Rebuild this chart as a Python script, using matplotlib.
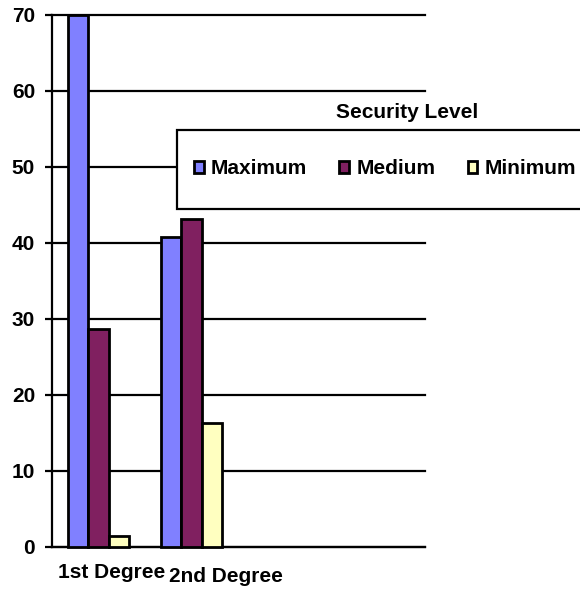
import matplotlib
matplotlib.use('Agg')
import matplotlib.pyplot as plt
import matplotlib.patches as mpatches
import numpy as np

categories = ['1st Degree', '2nd Degree']
series = ['Maximum', 'Medium', 'Minimum']
maximum = [70.0, 40.7]
medium = [28.7, 43.1]
minimum = [1.4, 16.3]
colors = ['#8080FF', '#802060', '#FFFFC0']
yticks = [0, 10, 20, 30, 40, 50, 60, 70]

plt.rcParams['font.family'] = ['Liberation Sans', 'DejaVu Sans']
plt.rcParams['font.weight'] = 'bold'
fs = 15

fig = plt.figure(figsize=(5.8, 5.9), dpi=100)
ax = fig.add_axes([0.0891, 0.0734, 0.6437, 0.9017])

x = np.arange(len(categories))
w = 0.22
for i, (vals, name) in enumerate(zip([maximum, medium, minimum], series)):
    bars = ax.bar(x + (i - 1) * w, vals, w, color=colors[i], edgecolor='black',
                  linewidth=2, label=name, zorder=3)
    for b in bars:
        b.set_clip_on(False)

ax.set_xlim(-0.5, 3.5)
ax.set_ylim(0, 70)
ax.set_yticks(yticks)
ax.set_yticklabels([str(t) for t in yticks], fontsize=fs, fontweight='bold')
ax.tick_params(axis='y', direction='out', length=5, width=1.6, pad=7)
ax.set_xticks([])

ax.yaxis.grid(True, color='black', linewidth=1.6, zorder=0)
ax.set_axisbelow(True)
for line in ax.get_ygridlines():
    line.set_clip_on(False)

for s in ['top', 'right']:
    ax.spines[s].set_visible(False)
for s in ['left', 'bottom']:
    ax.spines[s].set_linewidth(1.6)

# category labels (offset like the original)
trans = matplotlib.transforms.blended_transform_factory(ax.transData, fig.transFigure)
ax.text(0.14, 1 - 572 / 590, categories[0], transform=trans, ha='center', va='center',
        fontsize=fs, fontweight='bold')
ax.text(1.37, 1 - 577 / 590, categories[1], transform=trans, ha='center', va='center',
        fontsize=fs, fontweight='bold')

# legend box (runs off the right edge)
box = mpatches.Rectangle((177 / 580, 1 - 209 / 590), 1.0, 79 / 590,
                         transform=fig.transFigure, facecolor='white',
                         edgecolor='black', linewidth=1.6, zorder=2)
fig.patches.append(box)

handles = [mpatches.Patch(facecolor=c, edgecolor='black', linewidth=2) for c in colors]
leg = fig.legend(handles, series, loc='center left', bbox_to_anchor=(194 / 580, 1 - 169 / 590),
                 ncol=3, frameon=False, borderpad=0, borderaxespad=0,
                 handlelength=0.46, handleheight=0.46, handletextpad=0.35,
                 columnspacing=1.55, prop={'size': fs, 'weight': 'bold'})
leg.set_zorder(5)

fig.text(407 / 580, 1 - 112 / 590, 'Security Level', ha='center', va='center',
         fontsize=fs, fontweight='bold')

fig.savefig('out.png', dpi=100)
